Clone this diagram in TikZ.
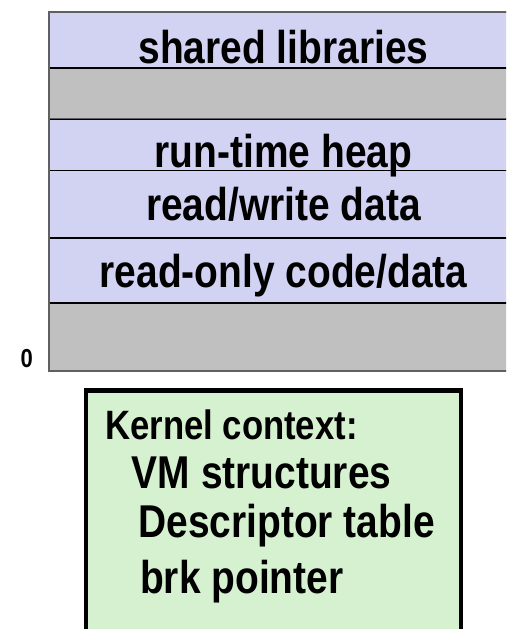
\documentclass[tikz,border=0pt]{standalone}
\usepackage{fontspec}
\setmainfont{Liberation Sans}[FakeStretch=0.846]
\definecolor{segblue}{RGB}{210,210,243}
\definecolor{seggray}{RGB}{192,192,192}
\definecolor{segedge}{RGB}{96,96,96}
\definecolor{kerngreen}{RGB}{214,241,208}
\tikzset{
    seg/.style={draw=black, line width=0.8pt, minimum width=469pt, inner sep=0pt, anchor=north west},
    segtext/.style={anchor=base, inner sep=0pt, font=\bfseries\fontsize{46}{50}\selectfont},
    ktext/.style={anchor=base west, inner sep=0pt, font=\bfseries\fontsize{46}{50}\selectfont},
}

\begin{document}
\begin{tikzpicture}[x=1pt, y=-1pt]
    \useasboundingbox (0, 0) rectangle (506, 629);
    \clip (0, 0) rectangle (506, 629);

    % memory segments
    \node[seg, fill=segblue, minimum height=55pt] (shlib) at (49, 12) {};
    \node[seg, fill=seggray, minimum height=50pt] (gap) at (shlib.south west) {};
    \node[seg, fill=segblue, minimum height=51pt] (heap) at (gap.south west) {};
    \node[seg, fill=segblue, minimum height=67pt] (rwdata) at (heap.south west) {};
    \node[seg, fill=segblue, minimum height=64pt] (rodata) at (rwdata.south west) {};
    \node[seg, fill=seggray, minimum height=67pt] (unused) at (rodata.south west) {};

    \draw[segedge, line width=1.6pt] (shlib.north east) -- (shlib.north west) -- (unused.south west) -- (unused.south east);
    \draw[segedge, line width=1.4pt] (gap.south west) -- (gap.south east);

    \node[segtext] (shlibtxt) at (283.5, 63) {shared libraries};
    \node[segtext] (heaptxt) at (283.5, 167) {run-time heap};
    \node[segtext] (rwdatatxt) at (283.5, 220) {read/write data};
    \node[segtext] (rodatatxt) at (283.5, 287) {read-only code/data};

    \node[anchor=base, inner sep=0pt, font=\bfseries\fontsize{26}{30}\selectfont] (zero) at (26.7, 367) {0};

    % kernel context
    \node[draw=black, line width=4.5pt, fill=kerngreen, minimum width=375pt, minimum height=330pt, anchor=north west] (kernel) at (83.5, 388) {};

    \node[ktext, font=\bfseries\fontsize{41}{45}\selectfont] (kctx) at (105, 439) {Kernel context:};
    \node[ktext] (vm) at (131.7, 488) {VM structures};
    \node[ktext] (desc) at (138.3, 537) {Descriptor table};
    \node[ktext] (brk) at (140, 593) {brk pointer};
\end{tikzpicture}
\end{document}
